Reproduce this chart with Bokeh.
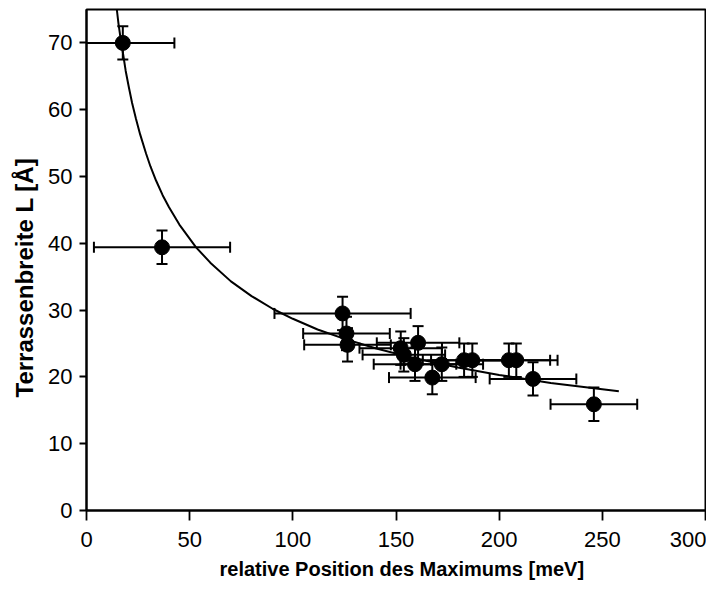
from bokeh.plotting import figure
from bokeh.models import ColumnDataSource, Whisker, TeeHead, Range1d, FixedTicker, Title
from bokeh.embed import file_html
from bokeh.resources import INLINE

# measured data: relative position of maximum [meV] vs terrace width L [Å]
pos = [17.6, 36.6, 124.1, 126.0, 126.5, 152.3, 153.8, 160.7, 159.2, 172.2,
       167.6, 183.0, 187.0, 204.7, 208.3, 216.4, 245.9]
width_L = [70.0, 39.4, 29.5, 26.5, 24.8, 24.3, 23.3, 25.1, 21.9, 21.9,
           19.9, 22.5, 22.5, 22.5, 22.5, 19.7, 15.9]
pos_err = [25, 33, 33, 21, 21, 20, 20, 20, 20, 20, 21, 20, 20, 20, 20, 21, 21]
L_err = [2.5, 2.5, 2.5, 2.5, 2.5, 2.5, 2.5, 2.5, 2.5, 2.5, 2.5, 2.5, 2.5,
         2.5, 2.5, 2.5, 2.5]

# fit curve
fit_pos = [14.0, 14.7, 15.5, 16.5, 17.6, 19.0, 20.5, 22.1, 24.0, 26.0, 28.9,
           31.0, 33.7, 36.9, 40.0, 45.0, 53.1, 60.0, 70.0, 80.0, 90.2, 100.0,
           112.0, 124.0, 140.0, 160.0, 180.0, 200.0, 225.0, 258.0]
fit_L = [76.7, 75.0, 72.9, 70.7, 68.6, 65.8, 63.4, 61.0, 58.6, 56.3, 53.4,
         51.5, 49.4, 47.2, 45.4, 42.8, 39.4, 37.1, 34.3, 32.1, 30.2, 28.7,
         27.1, 25.8, 24.3, 22.7, 21.4, 20.3, 19.1, 17.85]

x_ticks = [0, 50, 100, 150, 200, 250, 300]
y_ticks = [0, 10, 20, 30, 40, 50, 60, 70]
x_title = "relative Position des Maximums  [meV]"
y_title = "Terrassenbreite L [Å]"

FONT = "Liberation Sans"
W, H = 706, 585

p = figure(width=W, height=H, output_backend="svg", toolbar_location=None,
           x_range=Range1d(0, 300), y_range=Range1d(0, 75),
           min_border_left=86, min_border_right=1, min_border_top=9,
           min_border_bottom=75)

p.outline_line_color = "black"
p.outline_line_width = 2
p.outline_line_alpha = 1.0
p.background_fill_color = "white"
p.border_fill_color = "white"
p.xgrid.visible = False
p.ygrid.visible = False

for ax in (p.xaxis[0], p.yaxis[0]):
    ax.axis_line_color = "black"
    ax.axis_line_width = 2
    ax.major_tick_line_color = "black"
    ax.major_tick_line_width = 1.8
    ax.major_tick_in = 0
    ax.minor_tick_line_color = None
    ax.major_label_text_font = FONT
    ax.major_label_text_font_size = "22px"
    ax.major_label_text_color = "black"

p.xaxis[0].ticker = FixedTicker(ticks=x_ticks)
p.yaxis[0].ticker = FixedTicker(ticks=y_ticks)
p.xaxis[0].major_tick_out = 10
p.yaxis[0].major_tick_out = 7
p.xaxis[0].major_label_standoff = 11
p.yaxis[0].major_label_standoff = 7

# axis titles as side titles (placed like the reference's titles)
p.add_layout(Title(text=x_title, text_font=FONT, text_font_style="bold",
                   text_font_size="20px", text_color="black",
                   align="left", offset=133, standoff=12), "below")
p.add_layout(Title(text=y_title, text_font=FONT, text_font_style="bold",
                   text_font_size="24px", text_color="black",
                   align="left", offset=113, standoff=16), "left")

# fit curve
p.line(fit_pos, fit_L, line_color="black", line_width=2)

src = ColumnDataSource(dict(
    x=pos, y=width_L,
    xl=[a - b for a, b in zip(pos, pos_err)],
    xu=[a + b for a, b in zip(pos, pos_err)],
    yl=[a - b for a, b in zip(width_L, L_err)],
    yu=[a + b for a, b in zip(width_L, L_err)],
))

def head():
    return TeeHead(size=11, line_color="black", line_width=2)

wx = Whisker(source=src, base="y", lower="xl", upper="xu", dimension="width",
             line_color="black", line_width=2, upper_head=head(), lower_head=head(),
             level="glyph")
wy = Whisker(source=src, base="x", lower="yl", upper="yu", dimension="height",
             line_color="black", line_width=2, upper_head=head(), lower_head=head(),
             level="glyph")
p.add_layout(wx)
p.add_layout(wy)

p.scatter("x", "y", source=src, size=15, fill_color="black", line_color="black")

open("out.html", "w").write(file_html(p, INLINE))
